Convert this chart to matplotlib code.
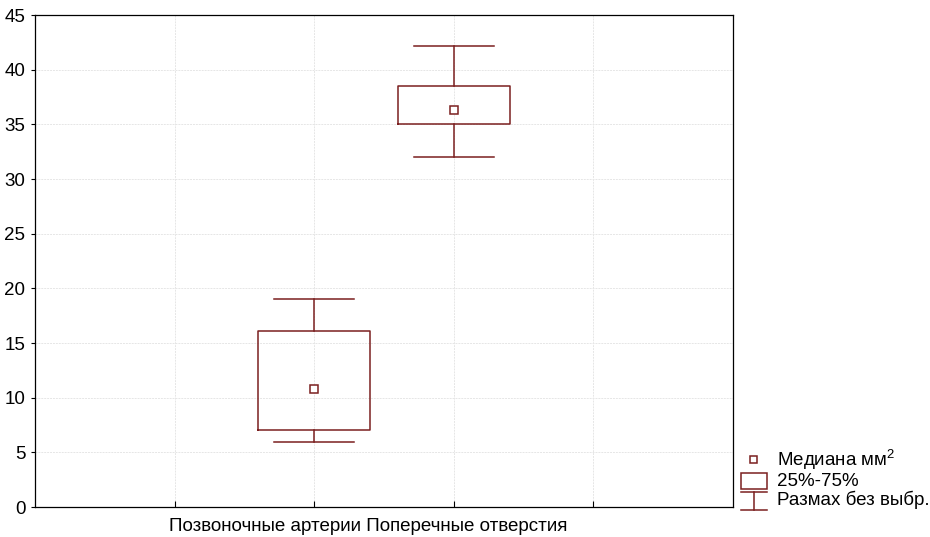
import matplotlib.pyplot as plt
from matplotlib.patches import Rectangle
from matplotlib.lines import Line2D
from matplotlib.transforms import Affine2D

plt.rcParams['font.family'] = ['Liberation Sans', 'DejaVu Sans']
plt.rcParams['mathtext.fontset'] = 'custom'
plt.rcParams['mathtext.rm'] = 'Liberation Sans'

positions = [2, 3]
mins = [5.9, 32.0]
q1s = [7.0, 35.0]
medians = [10.8, 36.3]
q3s = [16.1, 38.5]
maxs = [19.0, 42.2]
xlabel = 'Позвоночные артерии Поперечные отверстия'
legend_labels = ['Медиана мм$^\\mathrm{2}$', '25%-75%', 'Размах без выбр.']

col = '#7b1f1f'
W, H = 930, 537

fig = plt.figure(figsize=(W / 100, H / 100), dpi=100)
ax = fig.add_axes([35 / W, 30 / H, 698 / W, 492 / H])

stats = []
for i in range(len(positions)):
    stats.append(dict(med=medians[i], q1=q1s[i], q3=q3s[i],
                      whislo=mins[i], whishi=maxs[i], fliers=[]))

ax.bxp(stats, positions=positions, widths=0.8, capwidths=0.57,
       boxprops=dict(color=col, linewidth=1.1),
       whiskerprops=dict(color=col, linewidth=1.1),
       capprops=dict(color=col, linewidth=1.1),
       medianprops=dict(linestyle='none'),
       showfliers=False, zorder=3)
ax.plot(positions, medians, 's', ms=6, mfc='white', mec=col, mew=1.1, zorder=4)

ax.set_xlim(0, 5)
ax.set_ylim(0, 45)
ax.set_xticks([1, 2, 3, 4])
ax.set_xticklabels([])
ax.set_yticks(range(0, 46, 5))
ax.grid(True, color='#e6e6e6', linewidth=0.7, linestyle=(0, (2, 1)))
ax.set_axisbelow(True)
ax.tick_params(labelsize=13.5, direction='in', length=4, width=0.8, pad=3)
ax.tick_params(axis='y', direction='out', length=3, pad=4)
for s in ax.spines.values():
    s.set_linewidth(0.9)

ax.text(2.389, -1.0, xlabel, ha='center', va='top', fontsize=13.5)

# legend, placed in picture pixels (origin top-left)
px = Affine2D().scale(1 / W, -1 / H).translate(0, 1) + fig.transFigure
fig.add_artist(Rectangle((750, 463), 7, -7, transform=px, fill=False,
                         edgecolor=col, linewidth=1.1))
fig.add_artist(Rectangle((741, 489), 26, -16, transform=px, fill=False,
                         edgecolor=col, linewidth=1.1))
for y in (492, 510):
    fig.add_artist(Line2D([741, 767], [y, y], transform=px, color=col, linewidth=1.1))
fig.add_artist(Line2D([754, 754], [492, 510], transform=px, color=col, linewidth=1.1))
for y, lab in zip([466, 486, 505], legend_labels):
    fig.text(777, y, lab, transform=px, ha='left', va='baseline', fontsize=13.5)

plt.savefig('out.png', dpi=100)
